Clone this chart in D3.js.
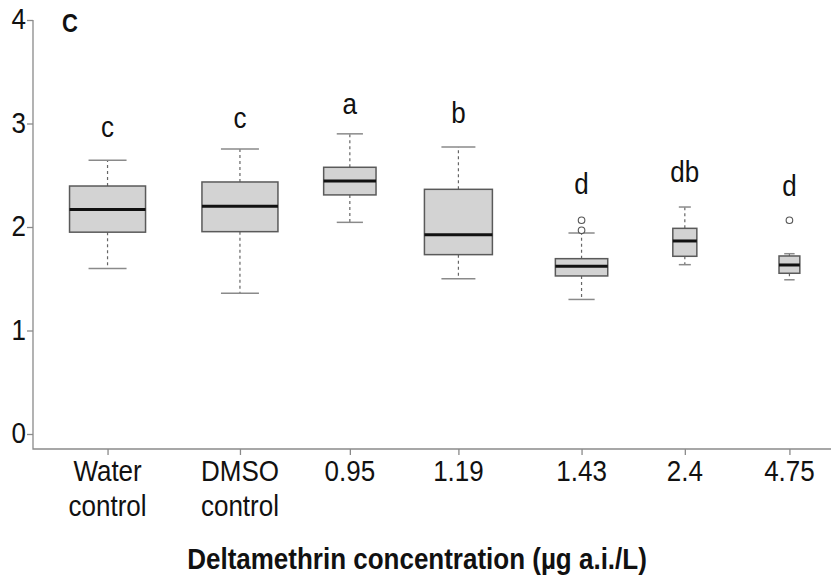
<!DOCTYPE html>
<html>
<head>
<meta charset="utf-8">
<script src="https://cdn.jsdelivr.net/npm/d3@7"></script>
<style>
  html, body { margin: 0; padding: 0; background: #fff; }
  svg { display: block; }
  text { font-family: "Liberation Sans", Arial, Helvetica, sans-serif; fill: #111; }
</style>
</head>
<body>
<svg id="chart" width="831" height="577"></svg>
<script>
// Groups along the x axis
const groups = ["Water control", "DMSO control", "0.95", "1.19", "1.43", "2.4", "4.75"];
// Box placement along the axis (boxplot "at" values) and sample sizes (box width ~ sqrt(n))
const groupAt = [1, 2, 2.83, 3.65, 4.58, 5.36, 6.15];
const groupN = [40, 40, 19, 32, 19, 4, 3];
// Five-number summaries
const whiskerLow = [1.60, 1.36, 2.045, 1.50, 1.30, 1.636, 1.49];
const q1 = [1.95, 1.955, 2.31, 1.733, 1.527, 1.717, 1.553];
const median = [2.17, 2.20, 2.444, 1.926, 1.62, 1.865, 1.633];
const q3 = [2.396, 2.435, 2.577, 2.364, 1.694, 1.987, 1.72];
const whiskerHigh = [2.645, 2.754, 2.90, 2.773, 1.942, 2.193, 1.742];
// Outlying observations
const outliers = [[], [], [], [], [1.968, 2.065], [], [2.065]];
// Significance letters and their baseline heights
const letters = ["c", "c", "a", "b", "d", "db", "d"];
const letterY = [2.87, 2.957, 3.092, 3.005, 2.319, 2.435, 2.30];
// Y axis ticks
const yTicks = [0, 1, 2, 3, 4];
const xTitle = "Deltamethrin concentration (µg a.i./L)";
const panelLabel = "C";

const svg = d3.select("#chart");
const x = d3.scaleLinear().domain([0.437, 6.464]).range([33, 831]);
const y = d3.scaleLinear().domain([0, 4]).range([434, 20]);
const maxN = d3.max(groupN);
const boxW = i => (x(1.574) - x(1)) * Math.sqrt(groupN[i] / maxN);

const axisColor = "#8a8a8a";
const stretch = 1.15; // text is drawn slightly taller than wide

// L-shaped frame
svg.append("path")
  .attr("d", `M${x.range()[0]},${y(4)} V449 H${x.range()[1]}`)
  .attr("fill", "none").attr("stroke", axisColor).attr("stroke-width", 1.3);

// Y axis ticks
const yAxis = d3.axisLeft(y).tickValues(yTicks).tickSize(6).tickFormat("");
const gy = svg.append("g").attr("transform", `translate(33,0)`).call(yAxis);
gy.select(".domain").remove();
gy.selectAll(".tick line").attr("stroke", axisColor).attr("stroke-width", 1.3);
// Y tick labels
svg.append("g").selectAll("text").data(yTicks).join("text")
  .attr("transform", d => `translate(26,${y(d) + 9}) scale(1,${stretch})`)
  .attr("text-anchor", "end").attr("font-size", 26)
  .text(d3.format("d"));

// X axis ticks
const xAxis = d3.axisBottom(x).tickValues(groupAt).tickSize(6).tickFormat("");
const gx = svg.append("g").attr("transform", `translate(0,449)`).call(xAxis);
gx.select(".domain").remove();
gx.selectAll(".tick line").attr("stroke", axisColor).attr("stroke-width", 1.3);

// X category labels (split into lines)
groups.forEach((g, i) => {
  g.split(" ").forEach((ln, j) => {
    svg.append("text")
      .attr("transform", `translate(${x(groupAt[i])},${481 + j * 35}) scale(1,${stretch})`)
      .attr("text-anchor", "middle").attr("font-size", 26).text(ln);
  });
});

// Axis title
svg.append("text")
  .attr("transform", `translate(417,569) scale(1,${stretch})`)
  .attr("text-anchor", "middle")
  .attr("font-size", 26).attr("font-weight", "bold")
  .text(xTitle);

// Panel label
svg.append("text")
  .attr("transform", `translate(62,32) scale(1,${stretch})`)
  .attr("font-size", 22).attr("font-weight", "bold")
  .text(panelLabel);

// Boxes
const boxes = svg.append("g");
groups.forEach((g, i) => {
  const cx = x(groupAt[i]);
  const w = boxW(i);
  const gg = boxes.append("g");
  // whiskers
  gg.append("line").attr("x1", cx).attr("x2", cx).attr("y1", y(q3[i])).attr("y2", y(whiskerHigh[i]))
    .attr("stroke", "#666").attr("stroke-width", 1.2).attr("stroke-dasharray", "3,3");
  gg.append("line").attr("x1", cx).attr("x2", cx).attr("y1", y(q1[i])).attr("y2", y(whiskerLow[i]))
    .attr("stroke", "#666").attr("stroke-width", 1.2).attr("stroke-dasharray", "3,3");
  // caps
  [whiskerHigh[i], whiskerLow[i]].forEach(v => {
    gg.append("line").attr("x1", cx - w / 4).attr("x2", cx + w / 4).attr("y1", y(v)).attr("y2", y(v))
      .attr("stroke", "#8a8a8a").attr("stroke-width", 1.5);
  });
  // box
  gg.append("rect").attr("x", cx - w / 2).attr("width", w)
    .attr("y", y(q3[i])).attr("height", y(q1[i]) - y(q3[i]))
    .attr("fill", "#d3d3d3").attr("stroke", "#5a5a5a").attr("stroke-width", 1.5);
  // median
  gg.append("line").attr("x1", cx - w / 2).attr("x2", cx + w / 2)
    .attr("y1", y(median[i])).attr("y2", y(median[i]))
    .attr("stroke", "#111").attr("stroke-width", 3);
  // outliers
  outliers[i].forEach(v => {
    gg.append("circle").attr("cx", cx).attr("cy", y(v)).attr("r", 3.3)
      .attr("fill", "#fff").attr("stroke", "#555").attr("stroke-width", 1.1);
  });
  // significance letter
  svg.append("text")
    .attr("transform", `translate(${cx},${y(letterY[i])}) scale(1,${stretch})`)
    .attr("text-anchor", "middle").attr("font-size", 26).text(letters[i]);
});
</script>
</body>
</html>
